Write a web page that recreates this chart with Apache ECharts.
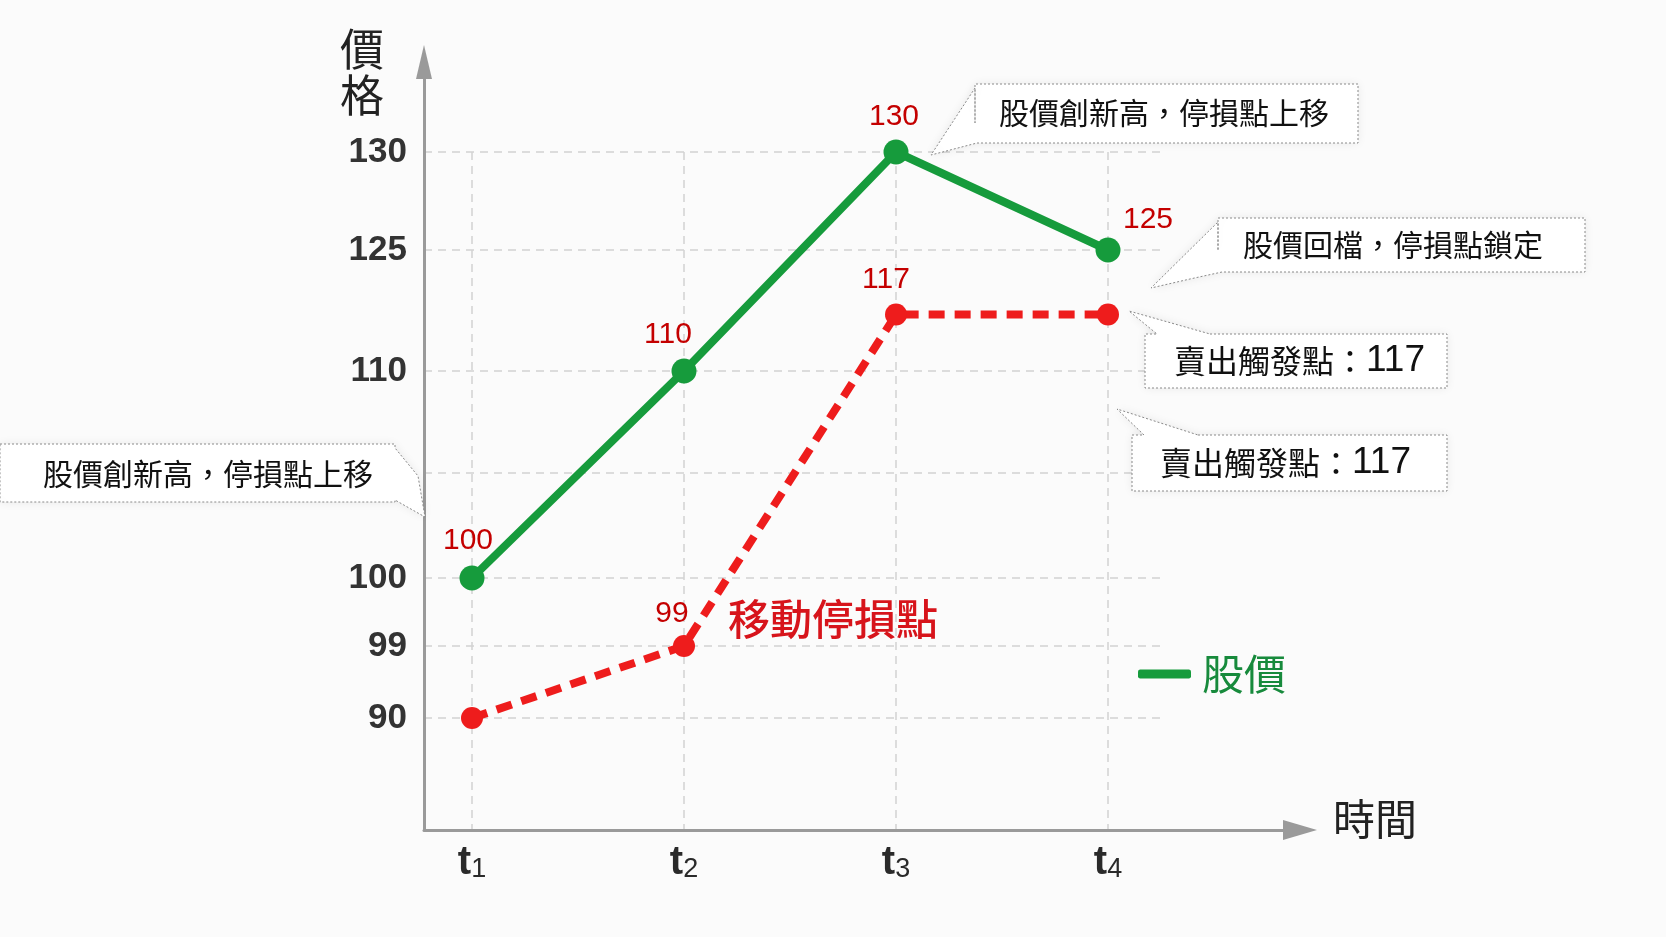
<!DOCTYPE html>
<html>
<head>
<meta charset="utf-8">
<title>移動停損點</title>
<script src="https://cdn.jsdelivr.net/npm/echarts@6/dist/echarts.min.js"></script>
<style>
  html, body { margin: 0; padding: 0; background: #fbfbfb; }
  #chart { width: 1666px; height: 937px; }
</style>
</head>
<body>
<div id="chart"></div>
<script>
// ---- data ----
const periods = ['1', '2', '3', '4'];          // t1..t4
const priceSeries = [100, 110, 130, 125];      // 股價
const stopSeries = [90, 99, 117, 117];         // 移動停損點
const stopLabelShown = [false, true, true, false];
const yTickValues = [90, 99, 100, 105, 110, 125, 130];
const yTickLabels = ['90', '99', '100', '', '110', '125', '130'];

// ---- layout (px) ----
// the price axis in the picture is not linear, every tick gets its own height above the x axis
const yTickSlots = [112, 184, 252, 357, 459, 580, 678];
const ORIGIN_X = 424, ORIGIN_Y = 830;
const T1_X = 472, X_STEP = 212;
const AXIS_X_END = 1300, AXIS_Y_END = 62;
const GRID_RIGHT = 1160;
const priceLabelOffsets = [[-4, -37], [-16, -36], [-2, -35], [40, -30]];
const stopLabelOffsets = [[0, 0], [-12, -32], [-10, -35], [0, 0]];

function slot(v) {
  for (let i = 0; i < yTickValues.length - 1; i++) {
    const a = yTickValues[i], b = yTickValues[i + 1];
    if (v >= a && v <= b) {
      return yTickSlots[i] + (v - a) / (b - a) * (yTickSlots[i + 1] - yTickSlots[i]);
    }
  }
  return v < yTickValues[0] ? yTickSlots[0] : yTickSlots[yTickSlots.length - 1];
}
function slotLabel(s) {
  let best = 0;
  yTickSlots.forEach((t, i) => { if (Math.abs(t - s) < Math.abs(yTickSlots[best] - s)) best = i; });
  return yTickLabels[best];
}

const xMin = 1 - (T1_X - ORIGIN_X) / X_STEP;
const xMaxAxis = xMin + (AXIS_X_END - ORIGIN_X) / X_STEP;
const xMaxGrid = xMin + (GRID_RIGHT - ORIGIN_X) / X_STEP;
const yTop = yTickSlots[yTickSlots.length - 1];
const xTicks = periods.map((p, i) => i + 1);

const CJK = '"Noto Sans CJK TC", "Noto Sans CJK SC", sans-serif';
const LATIN = '"Liberation Sans", Arial, sans-serif';
const GREEN = '#169b3c';
const RED = '#ee1c1c';

function callout(points, x, y, rich, text) {
  return [
    {
      type: 'polygon', z: 10,
      shape: { points: points },
      style: {
        fill: '#ffffff', stroke: '#8a8a8a', lineWidth: 1, lineDash: [2, 2],
        shadowBlur: 10, shadowColor: 'rgba(0,0,0,0.08)'
      }
    },
    {
      type: 'text', z: 11,
      style: { text: text, x: x, y: y, verticalAlign: 'middle', rich: rich,
               fontFamily: CJK, fontSize: 30, fill: '#111' }
    }
  ];
}
const triggerRich = {
  a: { fontFamily: CJK, fontSize: 32, fill: '#111' },
  b: { fontFamily: LATIN, fontSize: 37, fontWeight: 500, fill: '#111' }
};

const chart = echarts.init(document.getElementById('chart'));
chart.setOption({
  backgroundColor: '#fbfbfb',
  animation: false,
  legend: {
    data: ['股價'], left: 1133, top: 648, selectedMode: false,
    icon: 'roundRect', itemWidth: 53, itemHeight: 9,
    textStyle: { fontFamily: CJK, fontSize: 42, color: '#178a3c', padding: [0, 0, 0, 6] }
  },
  grid: [
    { left: ORIGIN_X, top: AXIS_Y_END, width: AXIS_X_END - ORIGIN_X, height: ORIGIN_Y - AXIS_Y_END, outerBoundsMode: 'none' },
    { left: ORIGIN_X, top: ORIGIN_Y - yTop, width: GRID_RIGHT - ORIGIN_X, height: yTop, outerBoundsMode: 'none' }
  ],
  xAxis: [
    {
      gridIndex: 0, type: 'value', min: xMin, max: xMaxAxis,
      axisLine: { show: true, symbol: ['none', 'triangle'], symbolSize: [20, 34],
                  lineStyle: { color: '#9a9a9a', width: 3 } },
      axisTick: { show: false, customValues: xTicks },
      splitLine: { show: false },
      axisLabel: {
        customValues: xTicks, margin: 13,
        formatter: v => '{t|t}{s|' + periods[Math.round(v) - 1] + '}',
        rich: {
          t: { fontFamily: LATIN, fontSize: 40, fontWeight: 'bold', color: '#2a2a2a' },
          s: { fontFamily: LATIN, fontSize: 27, fontWeight: 500, color: '#2a2a2a', lineHeight: 18, verticalAlign: 'bottom' }
        }
      }
    },
    {
      gridIndex: 1, type: 'value', min: xMin, max: xMaxGrid,
      axisLine: { show: false },
      axisTick: { show: false, customValues: xTicks },
      axisLabel: { show: false },
      splitLine: { show: true, lineStyle: { color: '#d2d2d2', width: 1.5, type: [8, 6] } }
    }
  ],
  yAxis: [
    {
      gridIndex: 0, type: 'value', min: 0, max: ORIGIN_Y - AXIS_Y_END,
      axisLine: { show: true, symbol: ['none', 'triangle'], symbolSize: [16, 34],
                  lineStyle: { color: '#9a9a9a', width: 3 } },
      axisTick: { show: false },
      axisLabel: { show: false },
      splitLine: { show: false }
    },
    {
      gridIndex: 1, type: 'value', min: 0, max: yTop,
      axisLine: { show: false },
      axisTick: { show: false, customValues: yTickSlots },
      axisLabel: {
        customValues: yTickSlots, margin: 17,
        formatter: v => slotLabel(v),
        fontFamily: LATIN, fontSize: 35, fontWeight: 'bold', color: '#333'
      },
      splitLine: { show: true, lineStyle: { color: '#d2d2d2', width: 1.5, type: [8, 6] } }
    }
  ],
  graphic: [
    { type: 'text', left: 340, top: 26,
      style: { text: '價\n格', fontFamily: CJK, fontSize: 44, lineHeight: 46, fill: '#222' } },
    { type: 'text', left: 1333, top: 798,
      style: { text: '時間', fontFamily: CJK, fontSize: 42, fill: '#222' } },
    { type: 'text', left: 728, top: 598,
      style: { text: '移動停損點', fontFamily: CJK, fontSize: 42, fontWeight: 500, fill: '#d7141b' } },
    ...callout([[975, 123], [975, 84], [1358, 84], [1358, 143], [977, 143], [931, 155], [975, 88]],
               999, 113, null, '股價創新高，停損點上移'),
    ...callout([[1218, 250], [1218, 218], [1585, 218], [1585, 272], [1222, 272], [1190, 279], [1151, 288], [1218, 222]],
               1243, 245, null, '股價回檔，停損點鎖定'),
    ...callout([[1210, 334], [1447, 334], [1447, 388], [1145, 388], [1145, 334], [1157, 334], [1129, 311]],
               1174, 361, triggerRich, '{a|賣出觸發點：}{b|' + stopSeries[3] + '}'),
    ...callout([[1198, 435], [1447, 435], [1447, 491], [1132, 491], [1132, 435], [1144, 435], [1117, 409]],
               1160, 463, triggerRich, '{a|賣出觸發點：}{b|' + stopSeries[3] + '}'),
    ...callout([[0, 444], [395, 444], [395, 448], [418, 476], [425, 517], [395, 500], [395, 502], [0, 502]],
               43, 474, null, '股價創新高，停損點上移')
  ],
  series: [
    {
      name: '移動停損點', type: 'line', xAxisIndex: 0, yAxisIndex: 0, z: 3,
      data: stopSeries.map((v, i) => ({
        value: [i + 1, slot(v)],
        label: { show: stopLabelShown[i], offset: stopLabelOffsets[i] }
      })),
      symbol: 'circle', symbolSize: 22,
      itemStyle: { color: RED },
      lineStyle: { color: RED, width: 8, type: [16, 10] },
      label: {
        position: 'inside', formatter: p => String(stopSeries[p.dataIndex]),
        fontFamily: LATIN, fontSize: 30, color: '#c40000'
      }
    },
    {
      name: '股價', type: 'line', xAxisIndex: 0, yAxisIndex: 0, z: 4,
      data: priceSeries.map((v, i) => ({
        value: [i + 1, slot(v)],
        label: { offset: priceLabelOffsets[i] }
      })),
      symbol: 'circle', symbolSize: 25,
      itemStyle: { color: GREEN },
      lineStyle: { color: GREEN, width: 8 },
      label: {
        show: true, position: 'inside', formatter: p => String(priceSeries[p.dataIndex]),
        fontFamily: LATIN, fontSize: 30, color: '#c40000'
      }
    }
  ]
});
</script>
</body>
</html>
